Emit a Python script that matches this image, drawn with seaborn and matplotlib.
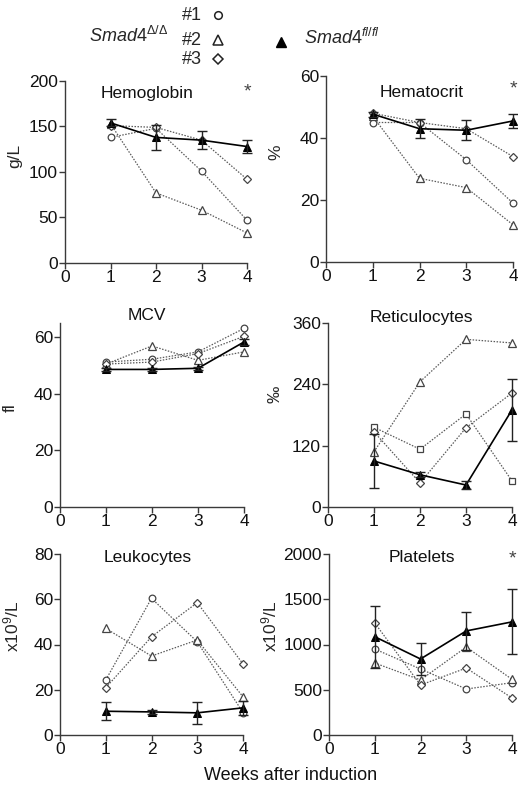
import numpy as np
import pandas as pd
import matplotlib
matplotlib.use("Agg")
import matplotlib.pyplot as plt
import seaborn as sns

sns.set_theme(style="ticks")
plt.rcParams["font.family"] = ["Liberation Sans", "DejaVu Sans"]
plt.rcParams["mathtext.fontset"] = "custom"
plt.rcParams["mathtext.rm"] = "Liberation Sans"
plt.rcParams["mathtext.it"] = "Liberation Sans:italic"

weeks = [1, 2, 3, 4]

hb_1 = [138, 148, 101, 47]
hb_2 = [153, 77, 58, 33]
hb_3 = [151, 149, 135, 92]
hb_wt = [154, 138, 135, 128]
hb_wt_err = [4, 14, 10, 7]

hct_1 = [45, 45, 33, 19]
hct_2 = [47, 27, 24, 12]
hct_3 = [48, 45, 43, 34]
hct_wt = [47.7, 43, 42.5, 45.5]
hct_wt_err = [0.8, 3, 3.3, 2.4]

mcv_1 = [51.2, 52.2, 54.8, 63.1]
mcv_2 = [50.5, 56.9, 51.8, 54.8]
mcv_3 = [50.5, 51.2, 54.2, 60.3]
mcv_wt = [48.6, 48.6, 49.0, 58.3]
mcv_wt_err = [0.6, 0.6, 0.6, 1.2]

ret_1 = [156, 113, 182, 51]
ret_2 = [108, 245, 328, 321]
ret_3 = [147, 47, 155, 223]
ret_wt = [90, 63, 43, 190]
ret_wt_err = [52, 5, 8, 60]

leu_1 = [24.3, 60.4, 41.2, 9.9]
leu_2 = [47.1, 34.9, 42.0, 16.9]
leu_3 = [20.9, 43.4, 58.5, 31.4]
leu_wt = [10.5, 10.2, 9.8, 12.0]
leu_wt_err = [4, 0.7, 5, 3]

plt_1 = [950, 729, 508, 578]
plt_2 = [796, 608, 972, 615]
plt_3 = [1238, 552, 740, 409]
plt_wt = [1086, 840, 1150, 1250]
plt_wt_err = [343, 180, 212, 360]

W, H = 518, 789
fig = plt.figure(figsize=(W / 100, H / 100), dpi=100)

def px_axes(l, r, t, b):
    return fig.add_axes([l / W, 1 - b / H, (r - l) / W, (b - t) / H])

panels = [
    dict(box=(65, 247, 81, 263), title="Hemoglobin", tpos=(0.45, 0.93), ylabel="g/L",
         lpos=(-0.236, 0.59), ylim=200, yticks=[0, 50, 100, 150, 200],
         ko=[hb_1, hb_2, hb_3], wt=hb_wt, err=hb_wt_err, star=(1.0, 0.94), m1="o"),
    dict(box=(326, 513, 76, 262), title="Hematocrit", tpos=(0.51, 0.91), ylabel="%",
         lpos=(-0.23, 0.59), ylim=60, yticks=[0, 20, 40, 60],
         ko=[hct_1, hct_2, hct_3], wt=hct_wt, err=hct_wt_err, star=(1.0, 0.93), m1="o"),
    dict(box=(60, 244, 323, 507), title="MCV", tpos=(0.47, 1.04), ylabel="fl",
         lpos=(-0.23, 0.54), ylim=65, yticks=[0, 20, 40, 60],
         ko=[mcv_1, mcv_2, mcv_3], wt=mcv_wt, err=mcv_wt_err, star=None, m1="o"),
    dict(box=(328, 512, 323, 507), title="Reticulocytes", tpos=(0.505, 1.03), ylabel="‰",
         lpos=(-0.245, 0.61), ylim=360, yticks=[0, 120, 240, 360],
         ko=[ret_1, ret_2, ret_3], wt=ret_wt, err=ret_wt_err, star=None, m1="s"),
    dict(box=(60, 243, 554, 735), title="Leukocytes", tpos=(0.48, 0.98), ylabel=r"x10$^{9}$/L",
         lpos=(-0.21, 0.6), ylim=80, yticks=[0, 20, 40, 60, 80],
         ko=[leu_1, leu_2, leu_3], wt=leu_wt, err=leu_wt_err, star=None, m1="o"),
    dict(box=(329, 512, 554, 735), title="Platelets", tpos=(0.51, 0.98), ylabel=r"x10$^{9}$/L",
         lpos=(-0.27, 0.6), ylim=2000, yticks=[0, 500, 1000, 1500, 2000],
         ko=[plt_1, plt_2, plt_3], wt=plt_wt, err=plt_wt_err, star=(1.0, 0.975), m1="o"),
]

ko_color = "#5a5a5a"
axis_color = "#3a3a3a"
fs = 12.5

for p in panels:
    ax = px_axes(*p["box"])
    markers = [p["m1"], "^", "D"]
    msizes = [4.8, 5.2, 3.8]
    if p["m1"] == "s":
        msizes[0] = 5.0
    for vals, mk, ms in zip(p["ko"], markers, msizes):
        df = pd.DataFrame({"week": weeks, "value": vals})
        sns.lineplot(data=df, x="week", y="value", ax=ax, color=ko_color,
                     linestyle=(0, (1.2, 1.2)), linewidth=0.9, marker=mk,
                     markersize=ms, markerfacecolor="white", markeredgecolor="#444444",
                     markeredgewidth=0.9, clip_on=False, zorder=3)
    dfw = pd.DataFrame({"week": weeks, "value": p["wt"]})
    sns.lineplot(data=dfw, x="week", y="value", ax=ax, color="black", linewidth=1.2,
                 marker="^", markersize=5.5, markerfacecolor="black",
                 markeredgecolor="black", clip_on=False, zorder=4)
    ax.errorbar(weeks, p["wt"], yerr=p["err"], fmt="none", ecolor="#222222",
                elinewidth=1.0, capsize=3.5, capthick=1.0, clip_on=False, zorder=4)
    ax.set_xlim(0, 4)
    ax.set_ylim(0, p["ylim"])
    ax.set_xticks([0, 1, 2, 3, 4])
    ax.set_yticks(p["yticks"])
    ax.set_xlabel("")
    ax.set_ylabel(p["ylabel"], fontsize=fs)
    ax.yaxis.set_label_coords(*p["lpos"])
    ax.tick_params(axis="both", labelsize=fs, length=4, width=1.0, color=axis_color,
                   direction="out", pad=1.0, labelcolor="#111111")
    for s in ["top", "right"]:
        ax.spines[s].set_visible(False)
    for s in ["left", "bottom"]:
        ax.spines[s].set_color(axis_color)
        ax.spines[s].set_linewidth(1.0)
    ax.text(*p["tpos"], p["title"], transform=ax.transAxes, ha="center", va="center",
            fontsize=fs, color="#111111")
    if p["star"] is not None:
        ax.text(*p["star"], "*", transform=ax.transAxes, ha="center", va="center",
                fontsize=14, color="#444444")
    ax.set_facecolor("none")

fig.text(291 / W, 1 - 776 / H, "Weeks after induction", ha="center", va="center",
         fontsize=13, color="#111111")

# legend overlay in pixel coordinates
lg = fig.add_axes([0, 0, 1, 1])
lg.set_xlim(0, W)
lg.set_ylim(H, 0)
lg.axis("off")
lg.patch.set_alpha(0)
lg.text(89, 36, r"$\mathit{Smad4}^{\Delta/\Delta}$", fontsize=13, ha="left", va="center")
for lab, yy, mk, ms in [("#1", 15, "o", 5.5), ("#2", 40, "^", 6.5), ("#3", 59, "D", 5)]:
    lg.text(182, yy, lab, fontsize=13, ha="left", va="center")
    lg.plot([218], [yy], marker=mk, markersize=ms, markerfacecolor="white",
            markeredgecolor="#222222", markeredgewidth=1.1, linestyle="none")
lg.plot([281], [42], marker="^", markersize=7, color="black", linestyle="none")
lg.text(304, 38, r"$\mathit{Smad4}^{fl/fl}$", fontsize=13, ha="left", va="center")

fig.savefig("out.png", dpi=100)
